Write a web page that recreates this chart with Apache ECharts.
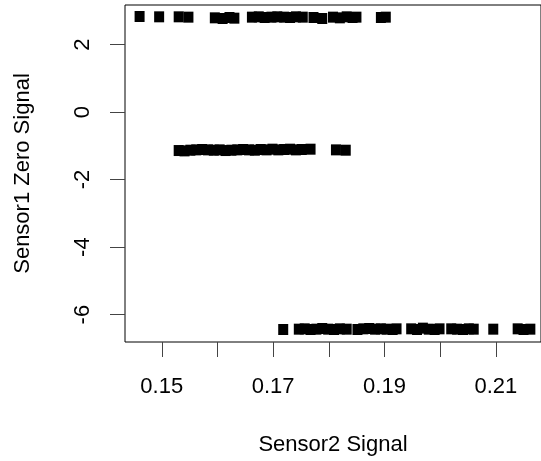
<!DOCTYPE html>
<html>
<head>
<meta charset="utf-8">
<script src="https://cdn.jsdelivr.net/npm/echarts@6/dist/echarts.min.js"></script>
<style>
  html, body { margin: 0; padding: 0; background: #fff; }
  #main { width: 541px; height: 461px; }
</style>
</head>
<body>
<div id="main"></div>
<script>
// upper cluster
var topX = [0.14602, 0.14953, 0.15304, 0.15479, 0.15953, 0.16093, 0.16216, 0.16304,
  0.16619, 0.16742, 0.16847, 0.16970, 0.17075, 0.17198, 0.17304, 0.17409, 0.17532,
  0.17725, 0.17882, 0.18075, 0.18198, 0.18321, 0.18426, 0.18496, 0.18935, 0.19023];
var topY = [2.83, 2.82, 2.82, 2.81, 2.79, 2.77, 2.80, 2.78,
  2.81, 2.82, 2.80, 2.81, 2.82, 2.81, 2.80, 2.82, 2.81,
  2.80, 2.77, 2.81, 2.79, 2.82, 2.80, 2.81, 2.80, 2.81];

// middle cluster
var midX = [0.15304, 0.15409, 0.15514, 0.15619, 0.15725, 0.15830, 0.15935, 0.16040,
  0.16146, 0.16251, 0.16356, 0.16461, 0.16567, 0.16672, 0.16777, 0.16882, 0.16988,
  0.17093, 0.17198, 0.17304, 0.17409, 0.17514, 0.17672, 0.18128, 0.18304];
var midY = [-1.14, -1.15, -1.13, -1.12, -1.11, -1.12, -1.13, -1.12,
  -1.14, -1.13, -1.12, -1.11, -1.12, -1.13, -1.11, -1.12, -1.10,
  -1.12, -1.11, -1.10, -1.12, -1.11, -1.10, -1.12, -1.13];

// lower cluster
var lowX = [0.17181, 0.17461, 0.17567, 0.17672, 0.17777, 0.17882, 0.17988, 0.18093,
  0.18198, 0.18321, 0.18514, 0.18619, 0.18725, 0.18830, 0.18935, 0.19040, 0.19146,
  0.19216, 0.19479, 0.19584, 0.19689, 0.19795, 0.19900, 0.19988, 0.20198, 0.20303,
  0.20409, 0.20514, 0.20602, 0.20953, 0.21391, 0.21496, 0.21619];
var lowY = [-6.44, -6.43, -6.42, -6.44, -6.43, -6.41, -6.43, -6.44,
  -6.42, -6.43, -6.44, -6.42, -6.41, -6.43, -6.42, -6.43, -6.44,
  -6.42, -6.42, -6.44, -6.40, -6.43, -6.44, -6.42, -6.42, -6.43,
  -6.44, -6.42, -6.43, -6.43, -6.42, -6.44, -6.43];

var xTicks = [0.15, 0.16, 0.17, 0.18, 0.19, 0.20, 0.21];
var xLabels = [0.15, 0.17, 0.19, 0.21];
var yTicks = [-6, -4, -2, 0, 2];

function pairs(xs, ys) {
  return xs.map(function (x, i) { return [x, ys[i]]; });
}

var chart = echarts.init(document.getElementById('main'));

var txt = { color: '#000', fontFamily: 'Liberation Sans, Arial, sans-serif', fontSize: 22 };

var option = {
  backgroundColor: '#fff',
  animation: false,
  grid: {
    left: 125, top: 5, right: -10, bottom: 118,
    show: true, borderColor: '#000', borderWidth: 1, backgroundColor: 'transparent'
  },
  xAxis: {
    type: 'value',
    min: 0.1434,
    max: 0.2181,
    name: 'Sensor2 Signal',
    nameLocation: 'middle',
    nameGap: 92,
    nameTextStyle: txt,
    splitLine: { show: false },
    axisLine: { show: false, onZero: false },
    axisTick: {
      show: true, length: 15, customValues: xTicks,
      lineStyle: { color: '#444', width: 1 }
    },
    axisLabel: Object.assign({ margin: 34, customValues: xLabels }, txt)
  },
  yAxis: {
    type: 'value',
    min: -6.81,
    max: 3.17,
    name: 'Sensor1 Zero Signal',
    nameLocation: 'middle',
    nameGap: 91,
    nameTextStyle: txt,
    splitLine: { show: false },
    axisLine: { show: false, onZero: false },
    axisTick: {
      show: true, length: 15, customValues: yTicks,
      lineStyle: { color: '#444', width: 1 }
    },
    axisLabel: Object.assign({ margin: 31, rotate: 90, customValues: yTicks }, txt)
  },
  series: [
    { type: 'scatter', data: pairs(topX, topY) },
    { type: 'scatter', data: pairs(midX, midY) },
    { type: 'scatter', data: pairs(lowX, lowY) }
  ].map(function (s) {
    s.symbol = 'rect';
    s.symbolSize = [10, 11];
    s.itemStyle = { color: '#000', opacity: 1 };
    s.clip = true;
    return s;
  })
};

chart.setOption(option);
</script>
</body>
</html>
